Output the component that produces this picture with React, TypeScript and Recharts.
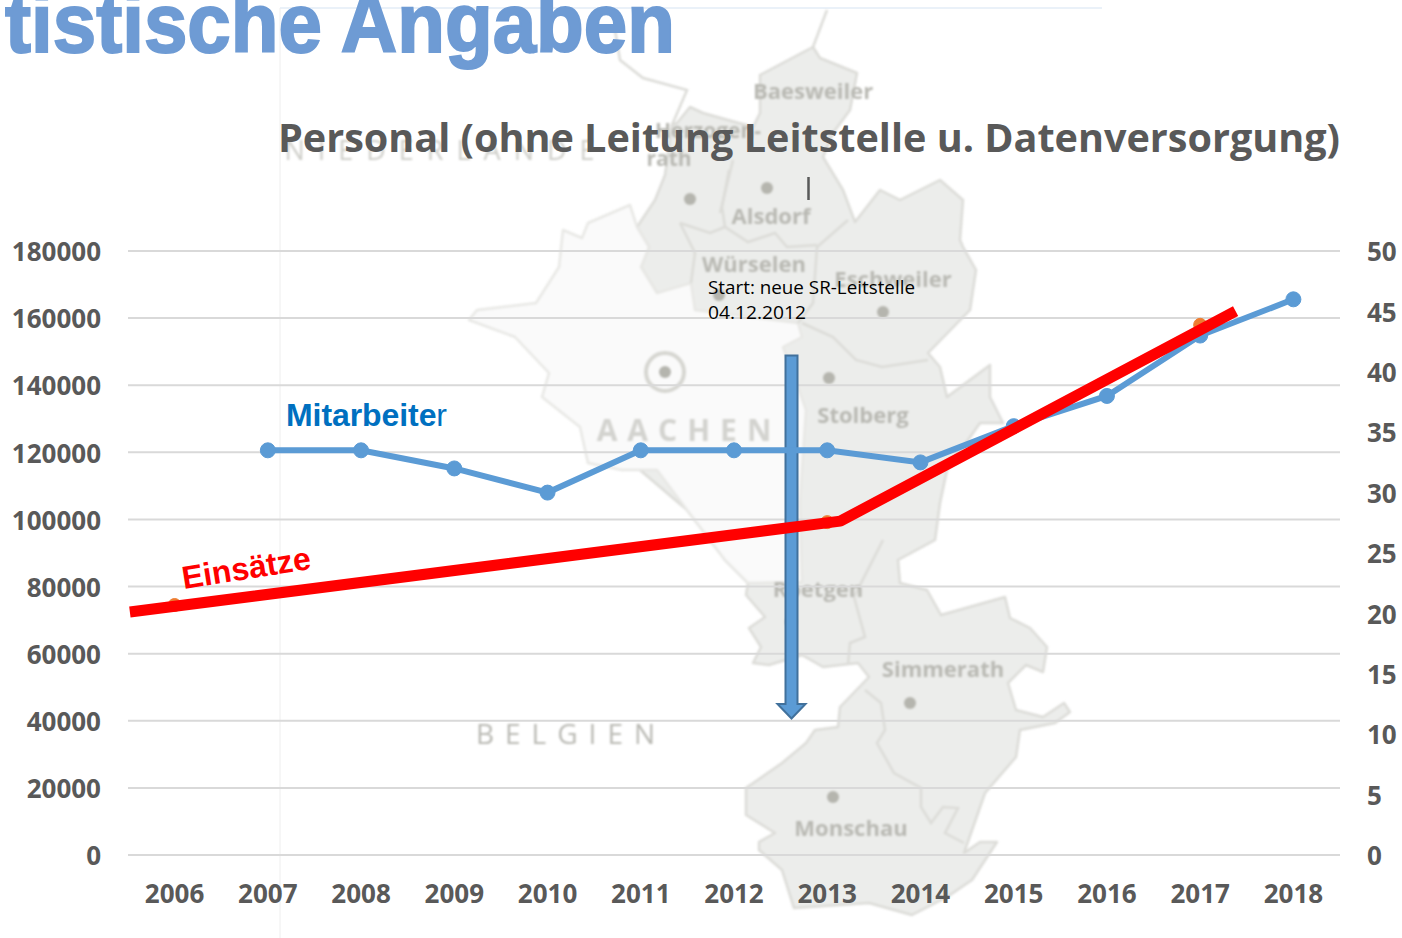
import React from "react";
import { LineChart, Line, XAxis, YAxis, CartesianGrid, Customized } from "recharts";

const years = ["2006","2007","2008","2009","2010","2011","2012","2013","2014","2015","2016","2017","2018"];
const mitarbeiter: (number | null)[] = [null,33.5,33.5,32,30,33.5,33.5,33.5,32.5,35.5,38,43,46];
const einsaetzePunkte: (number | null)[] = [74500,null,null,null,null,null,null,99200,null,null,null,158000,null];
const trendX = [2005.52, 2013.14, 2017.38];
const trendY = [72400, 99500, 162100];
const leftTicks = [0,20000,40000,60000,80000,100000,120000,140000,160000,180000];
const rightTicks = [0,5,10,15,20,25,30,35,40,45,50];

const table = years.map((y, i) => ({ year: y, mitarbeiter: mitarbeiter[i], einsaetze: einsaetzePunkte[i] }));
const trend = trendX.map((x, i) => ({ x, y: trendY[i] }));

const FONT = "'Open Sans', sans-serif";
const GREY = "#595959";

const outline = "813,47 760,75 760,113 753,127 703,113 690,107 677,123 672,125 665,175 655,200 637,227 649,247 641,267 657,293 640,300 600,400 640,470 687,510 725,560 748,583 746,595 765,617 749,628 761,647 753,663 769,665 802,655 823,667 858,663 869,677 840,707 838,727 815,730 806,743 782,763 746,788 746,815 775,833 759,842 759,850 782,870 794,908 869,903 912,915 947,897 972,880 997,842 980,842 964,853 985,793 1016,757 1020,730 1055,723 1070,712 1064,703 1043,717 1016,710 1008,683 1026,665 1043,672 1047,647 1030,628 1010,618 1005,597 941,615 927,590 900,583 898,560 935,540 936,533 940,503 947,470 980,423 1003,423 990,397 990,365 947,397 940,367 928,353 970,310 976,270 963,247 960,240 963,200 940,180 900,200 880,190 855,222 843,190 823,157 833,133 850,110 857,73 820,58";
const aachen = "630,205 588,223 582,238 563,230 559,267 536,303 477,310 469,320 515,337 549,373 542,397 580,427 588,463 622,470 657,470 687,510 725,560 748,583 802,582 800,503 802,470 806,410 798,387 783,347 802,337 798,323 695,310 691,283 657,293 641,267 649,247 637,227";
const borders = [
  "883,540 854,597 865,637 850,643 848,665",
  "865,690 881,703 885,730 877,743 894,773 921,788 921,807 931,823 943,807 958,808 945,833 964,843",
  "802,323 833,337 856,360 882,367 928,360",
  "848,220 817,247 813,303 798,323",
  "680,223 695,253 691,283",
  "680,223 710,233 725,227 748,242 775,233 787,247 817,245",
  "729,170 722,207 725,227",
  "733,160 720,213",
  "615,30 620,60 643,78 687,90 672,125",
  "827,10 813,47",
];
const dots = [[690,199],[767,188],[719,295],[883,312],[829,378],[665,372],[791,622],[910,703],[833,797]];
const mapLabels: [string, number, number, number][] = [
  ["Baesweiler",813,99,22],["rath",669,166,21],["Herzogen-",708,138,21],["Alsdorf",771,224,22],["Würselen",754,272,22],["Eschweiler",893,287,22],
  ["Stolberg",863,423,22],["Roetgen",818,597,22],["Simmerath",943,677,22],["Monschau",851,836,22],
];

function MapBackground() {
  return (
    <svg width={1402} height={938} style={{ position: "absolute", left: 0, top: 0 }}>
      <line x1={280} y1={8} x2={1102} y2={8} stroke="#d5e3f2" strokeWidth={1} />
      <line x1={280} y1={8} x2={280} y2={938} stroke="#eeeeee" strokeWidth={1} />
      <g style={{ filter: "blur(0.8px)" }}>
        <polygon points={outline} fill="#ecedeb" stroke="#dcdcd8" strokeWidth={2.5} strokeLinejoin="round" />
        <polygon points={aachen} fill="#fafafa" stroke="#e8e8e5" strokeWidth={2.5} strokeLinejoin="round" />
        {borders.map((b, i) => <polyline key={i} points={b} fill="none" stroke="#dcdcd8" strokeWidth={2.5} />)}
        {dots.map(([x, y], i) => <circle key={i} cx={x} cy={y} r={6} fill="#b5b5ae" />)}
        <circle cx={665} cy={372} r={19} fill="none" stroke="#d6d6d1" strokeWidth={4} />
        <g fontFamily={FONT} fontWeight={700} fill="#b9b9b3" textAnchor="middle">
          {mapLabels.map(([t, x, y, s]) => <text key={t} x={x} y={y} fontSize={s}>{t}</text>)}
          <text x={689} y={441} fontSize={30} letterSpacing={10} fill="#d3d3cf">AACHEN</text>
        </g>
        <g fontFamily={FONT} fill="#b9b9b3" textAnchor="middle" fontSize={28}>
          <text x={571} y={744} letterSpacing={11}>BELGIEN</text>
          <text x={446} y={160} fontSize={27} letterSpacing={13} fill="#cfcfca">NIEDERLANDE</text>
        </g>
      </g>
    </svg>
  );
}

function Arrow() {
  return (
    <path d="M785.5 355.5 H797.5 V704 H805.5 L791.5 718.5 L777.5 704 H785.5 Z" fill="#5b9bd5" stroke="#41719c" strokeWidth={2} />
  );
}

function Overlay() {
  return (
    <svg width={1402} height={938} style={{ position: "absolute", left: 0, top: 0, pointerEvents: "none" }}>
      <text x={5} y={52} fontFamily="'Liberation Sans', sans-serif" fontWeight={700} fontSize={84} fill="#6e9bd4" stroke="#6e9bd4" strokeWidth={2} textLength={670} lengthAdjust="spacingAndGlyphs">tistische Angaben</text>
      <text x={278} y={152} fontFamily={FONT} fontWeight={700} fontSize={40} fill={GREY} textLength={1062} lengthAdjust="spacingAndGlyphs">Personal (ohne Leitung Leitstelle u. Datenversorgung)</text>
      <line x1={808.5} y1={177} x2={808.5} y2={200} stroke={GREY} strokeWidth={2.5} />
      <text x={708} y={294} fontFamily={FONT} fontSize={19} fill="#000" textLength={207} lengthAdjust="spacingAndGlyphs">Start: neue SR-Leitstelle</text>
      <text x={708} y={319} fontFamily={FONT} fontSize={19} fill="#000" textLength={98} lengthAdjust="spacingAndGlyphs">04.12.2012</text>
      <text x={286} y={426} fontFamily="'Liberation Sans', sans-serif" fontSize={32} fontWeight={700} fill="#0070c0" textLength={161}>Mitarbeite<tspan fontWeight={400}>r</tspan></text>
      <text x={246} y={579} fontFamily="'Liberation Sans', sans-serif" fontSize={32} fontWeight={700} fill="#ff0000" textAnchor="middle" transform="rotate(-9 246 567)">Einsätze</text>
    </svg>
  );
}

export default function App() {
  const tick = { fill: GREY, fontFamily: FONT, fontWeight: 700, fontSize: 26 };
  const yTick = { ...tick, dy: 1 };
  return (
    <div style={{ position: "absolute", left: 0, top: 0, width: 1402, height: 938, overflow: "hidden", background: "#fff" }}>
      <MapBackground />
      <div style={{ position: "absolute", left: 0, top: 0 }}>
        <LineChart width={1402} height={938} data={table} margin={{ top: 251, right: 0, bottom: 0, left: 0 }}>
          <CartesianGrid horizontal vertical={false} stroke="#d9d9d9" strokeWidth={2} yAxisId="left" />
          <XAxis dataKey="year" xAxisId="cat" height={83} axisLine={false} tickLine={false} tickSize={0} tickMargin={30} interval={0} padding={{ left: 46.6, right: 46.6 }} tick={tick} />
          <YAxis yAxisId="left" width={128} domain={[0, 180000]} ticks={leftTicks} interval={0} axisLine={false} tickLine={false} tickSize={0} tickMargin={27} tick={yTick} />
          <YAxis yAxisId="right" orientation="right" width={62} domain={[0, 50]} ticks={rightTicks} interval={0} axisLine={false} tickLine={false} tickSize={0} tickMargin={27} tick={yTick} />
          <Line xAxisId="cat" yAxisId="left" dataKey="einsaetze" stroke="none" isAnimationActive={false} dot={{ r: 6.5, fill: "#ed7d31", stroke: "#ed7d31" }} />
          <Line xAxisId="cat" yAxisId="right" dataKey="mitarbeiter" stroke="#5b9bd5" strokeWidth={6} isAnimationActive={false} dot={{ r: 7.5, fill: "#5b9bd5", stroke: "#5b9bd5", strokeWidth: 1 }} />
          <Customized component={Arrow} />
        </LineChart>
      </div>
      <div style={{ position: "absolute", left: 0, top: 0 }}>
        <LineChart width={1402} height={938} data={trend} margin={{ top: 251, right: 62, bottom: 83, left: 128 }}>
          <XAxis dataKey="x" type="number" hide domain={[2005.5, 2018.5]} allowDataOverflow />
          <YAxis hide domain={[0, 180000]} />
          <Line dataKey="y" stroke="#ff0000" strokeWidth={11} isAnimationActive={false} dot={false} strokeLinejoin="bevel" />
        </LineChart>
      </div>
      <Overlay />
    </div>
  );
}
